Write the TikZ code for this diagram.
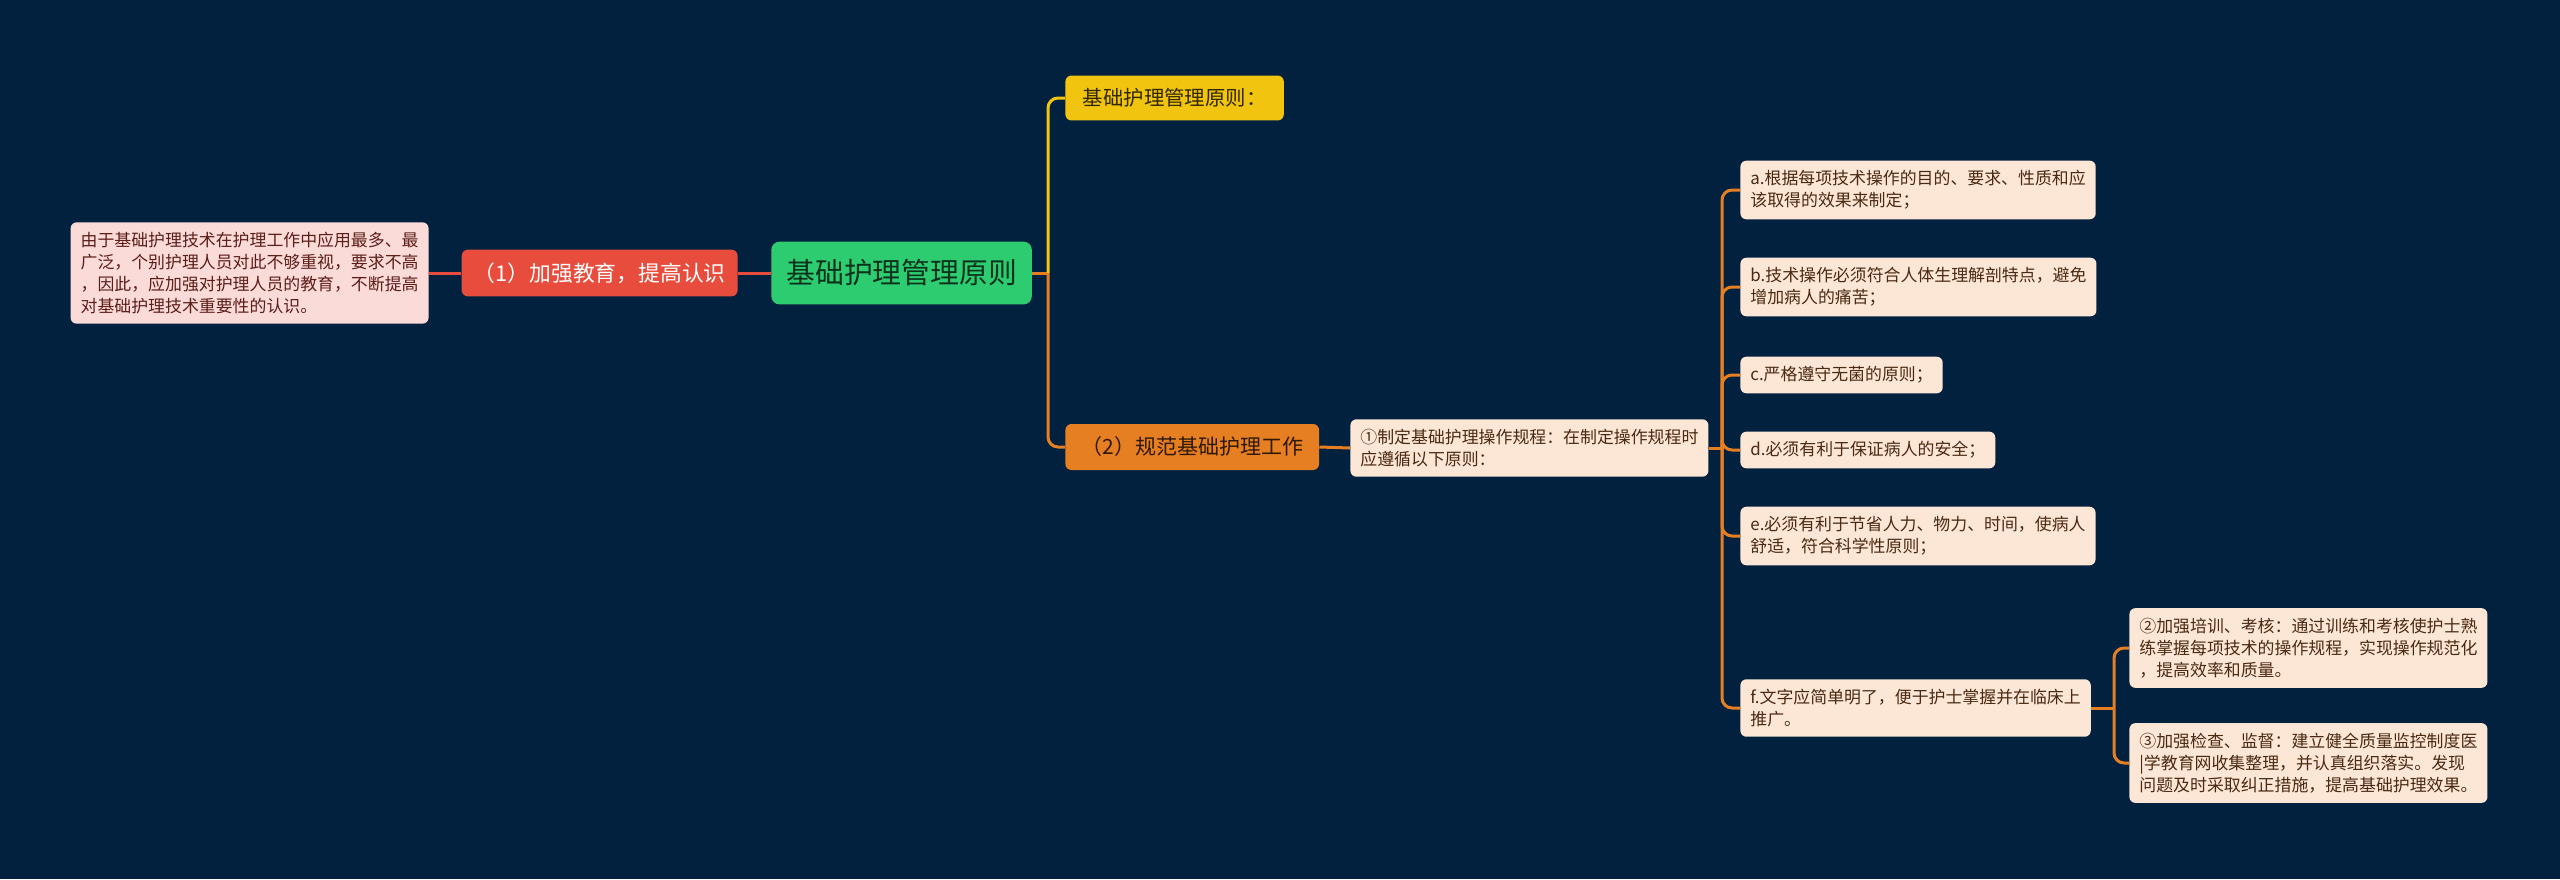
\documentclass[tikz,border=0pt]{standalone}
\usepackage{fontspec}
\setmainfont{Noto Sans CJK SC}
\definecolor{bgnavy}{HTML}{02213F}
\definecolor{rootgreen}{HTML}{2ECC71}
\definecolor{capyellow}{HTML}{F1C40F}
\definecolor{capred}{HTML}{E74C3C}
\definecolor{caporange}{HTML}{E67E22}
\definecolor{peach}{HTML}{FCE6D6}
\definecolor{pink}{HTML}{FADBD8}
\definecolor{brown}{HTML}{4A2A12}
\tikzset{
  box/.style={rounded corners=3pt, align=left, inner ysep=4.9pt, inner xsep=5pt,
    font=\fontsize{8.45pt}{11pt}\selectfont},
  leaf/.style={box, fill=peach, text=brown, anchor=west},
  note/.style={box, fill=pink, text=capred!40!black, anchor=east},
  link/.style={line width=1.5pt, rounded corners=5pt},
}
\begin{document}
\begin{tikzpicture}[x=0.5pt,y=-0.5pt]
  \fill[bgnavy] (0,0) rectangle (2560,879);
  \useasboundingbox (0,0) rectangle (2560,879);

  \node[fill=rootgreen, text=rootgreen!25!black, rounded corners=4pt,
    inner xsep=7.5pt, inner ysep=9pt, font=\fontsize{14.4pt}{16pt}\selectfont,
    anchor=west] (root) at (771,273) {基础护理管理原则};

  \node[fill=capyellow, text=capyellow!20!black, rounded corners=3pt,
    inner xsep=8.7pt, inner ysep=6.5pt, font=\fontsize{10.2pt}{12pt}\selectfont,
    anchor=west] (rule) at (1065,98) {基础护理管理原则：};
  \node[fill=caporange, text=caporange!20!black, rounded corners=3pt,
    inner xsep=8pt, inner ysep=6.5pt, font=\fontsize{10.5pt}{12pt}\selectfont,
    anchor=west] (norm) at (1065,447) {（2）规范基础护理工作};
  \node[fill=capred, text=white, rounded corners=3pt,
    inner xsep=6pt, inner ysep=6.4pt, font=\fontsize{10.9pt}{12pt}\selectfont,
    anchor=east] (edu) at (738,273) {（1）加强教育，提高认识};

  \node[note] (why) at (429,273) {由于基础护理技术在护理工作中应用最多、最\\广泛，个别护理人员对此不够重视，要求不高\\，因此，应加强对护理人员的教育，不断提高\\对基础护理技术重要性的认识。};

  \node[leaf] (step1) at (1350,448) {①制定基础护理操作规程：在制定操作规程时\\应遵循以下原则：};
  \node[leaf] (pa) at (1740,190) {a.根据每项技术操作的目的、要求、性质和应\\该取得的效果来制定；};
  \node[leaf] (pb) at (1740,287) {b.技术操作必须符合人体生理解剖特点，避免\\增加病人的痛苦；};
  \node[leaf] (pc) at (1740,375) {c.严格遵守无菌的原则；};
  \node[leaf] (pd) at (1740,450) {d.必须有利于保证病人的安全；};
  \node[leaf] (pe) at (1740,536) {e.必须有利于节省人力、物力、时间，使病人\\舒适，符合科学性原则；};
  \node[leaf] (pf) at (1740,708) {f.文字应简单明了，便于护士掌握并在临床上\\推广。};
  \node[leaf] (step2) at (2129,648) {②加强培训、考核：通过训练和考核使护士熟\\练掌握每项技术的操作规程，实现操作规范化\\，提高效率和质量。};
  \node[leaf] (step3) at (2129,763) {③加强检查、监督：建立健全质量监控制度医\\|学教育网收集整理，并认真组织落实。发现\\问题及时采取纠正措施，提高基础护理效果。};

  \coordinate (t0) at (1048,273);
  \coordinate (t1) at (1722,448);
  \coordinate (t2) at (2114,708);

  \draw[link, capred] (root.west) -- (edu.east);
  \draw[link, capred] (edu.west) -- (why.east);
  \draw[link, caporange] (root.east) -- (t0);
  \draw[link, capyellow] (t0) |- (rule.west);
  \draw[link, caporange] (t0) |- (norm.west);
  \draw[link, caporange] (norm.east) -- (step1.west);
  \draw[link, caporange] (step1.east) -- (t1);
  \foreach \p in {pa, pb, pc, pd, pe, pf}
    \draw[link, caporange] (t1) |- (\p.west);
  \draw[link, caporange] (pf.east) -- (t2);
  \draw[link, caporange] (t2) |- (step2.west);
  \draw[link, caporange] (t2) |- (step3.west);
\end{tikzpicture}
\end{document}
